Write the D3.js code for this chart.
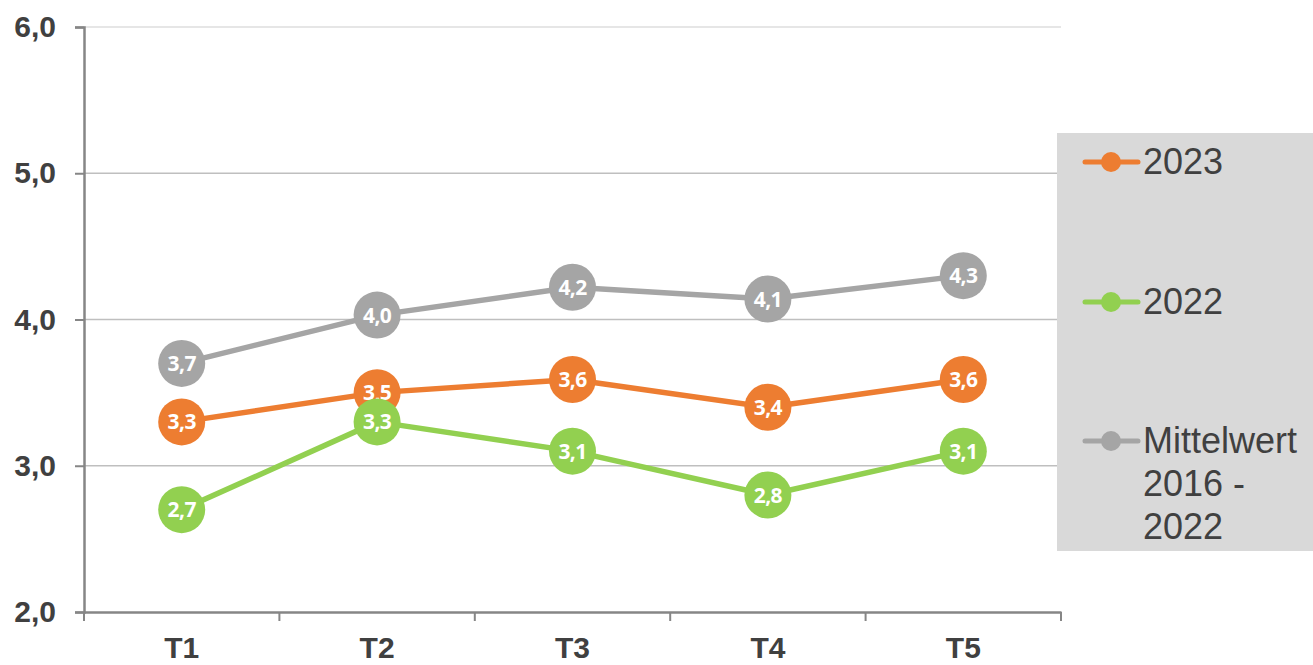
<!DOCTYPE html>
<html>
<head>
<meta charset="utf-8">
<script src="https://cdn.jsdelivr.net/npm/d3@7"></script>
<style>
  body { margin: 0; background: #fff; }
  svg { display: block; }
</style>
</head>
<body>
<svg id="chart" width="1313" height="665"></svg>
<script>
const categories = ['T1', 'T2', 'T3', 'T4', 'T5'];
const yTicks = [2, 3, 4, 5, 6];
const seriesNames = ['2023', '2022', 'Mittelwert 2016 - 2022'];
const values2023 = [3.3, 3.5, 3.59, 3.4, 3.59];
const values2022 = [2.7, 3.3, 3.1, 2.8, 3.1];
const valuesMean = [3.7, 4.03, 4.22, 4.14, 4.3];

const colors = { '2023': '#ED7D31', '2022': '#92D050', 'Mittelwert 2016 - 2022': '#A5A5A5' };
const series = [
  { name: seriesNames[0], values: values2023 },
  { name: seriesNames[1], values: values2022 },
  { name: seriesNames[2], values: valuesMean },
];

const svg = d3.select('#chart');
const plotLeft = 84, plotRight = 1061, plotTop = 27, plotBottom = 612;

const x = d3.scaleBand().domain(categories).range([plotLeft, plotRight]);
const y = d3.scaleLinear().domain([2, 6]).range([plotBottom, plotTop]);
const fmt = v => v.toFixed(1).replace('.', ',');

// gridlines
svg.append('g')
  .selectAll('line')
  .data(yTicks.filter(d => d > 2))
  .enter()
  .append('line')
  .attr('x1', plotLeft)
  .attr('x2', plotRight)
  .attr('y1', d => y(d))
  .attr('y2', d => y(d))
  .attr('stroke', d => (d === 6 ? '#dedede' : '#bfbfbf'))
  .attr('stroke-width', 1.5);

// y axis
const yAxis = svg.append('g')
  .attr('transform', `translate(${plotLeft},0)`)
  .call(d3.axisLeft(y).tickValues(yTicks).tickSize(9).tickPadding(19).tickFormat(fmt));
yAxis.select('.domain').attr('stroke', '#868686').attr('stroke-width', 2.5);
yAxis.selectAll('.tick line').attr('stroke', '#868686').attr('stroke-width', 2);
yAxis.selectAll('.tick text')
  .attr('fill', '#404040')
  .style('font', 'bold 30px "Liberation Sans", Arial, sans-serif');

// x axis
const xAxis = svg.append('g')
  .attr('transform', `translate(0,${plotBottom})`)
  .call(d3.axisBottom(x).tickSize(0).tickPadding(25));
xAxis.select('.domain').attr('stroke', '#868686').attr('stroke-width', 2.5);
xAxis.selectAll('.tick text')
  .attr('fill', '#404040')
  .style('font', 'bold 30px "Liberation Sans", Arial, sans-serif');
xAxis.selectAll('.boundary')
  .data(d3.range(categories.length + 1))
  .enter()
  .append('line')
  .attr('x1', i => plotLeft + i * x.step())
  .attr('x2', i => plotLeft + i * x.step())
  .attr('y1', 0)
  .attr('y2', 9)
  .attr('stroke', '#868686')
  .attr('stroke-width', 2);

// series, drawn gray first so the green sits on top
const line = d3.line()
  .x((d, i) => x(categories[i]) + x.bandwidth() / 2)
  .y(d => y(d));

const drawOrder = [series[2], series[0], series[1]];
drawOrder.forEach(s => {
  const g = svg.append('g');
  g.append('path')
    .datum(s.values)
    .attr('fill', 'none')
    .attr('stroke', colors[s.name])
    .attr('stroke-width', 5.5)
    .attr('stroke-linejoin', 'round')
    .attr('d', line);
  const pts = g.selectAll('g.pt')
    .data(s.values)
    .enter()
    .append('g')
    .attr('transform', (d, i) => `translate(${x(categories[i]) + x.bandwidth() / 2},${y(d)})`);
  pts.append('circle')
    .attr('r', 23.5)
    .attr('fill', colors[s.name]);
  pts.append('text')
    .attr('text-anchor', 'middle')
    .attr('dy', '0.36em')
    .attr('fill', '#fff')
    .style('font', 'bold 21px "Open Sans", sans-serif')
    .style('letter-spacing', '-0.6px')
    .text(d => fmt(d));
});

// legend
const legend = svg.append('g');
legend.append('rect')
  .attr('x', 1057)
  .attr('y', 133)
  .attr('width', 256)
  .attr('height', 418)
  .attr('fill', '#d9d9d9');

const legendY = [162, 302, 441];
series.forEach((s, i) => {
  const ly = legendY[i];
  legend.append('line')
    .attr('x1', 1085)
    .attr('x2', 1138)
    .attr('y1', ly)
    .attr('y2', ly)
    .attr('stroke', colors[s.name])
    .attr('stroke-width', 5)
    .attr('stroke-linecap', 'round');
  legend.append('circle')
    .attr('cx', 1111)
    .attr('cy', ly)
    .attr('r', 10)
    .attr('fill', colors[s.name]);
  const lines = s.name === 'Mittelwert 2016 - 2022' ? ['Mittelwert', '2016 -', '2022'] : [s.name];
  const t = legend.append('text')
    .attr('x', 1143)
    .attr('y', ly + 12)
    .attr('fill', '#404040')
    .style('font', '36px "Liberation Sans", Arial, sans-serif');
  lines.forEach((l, j) => {
    t.append('tspan')
      .attr('x', 1143)
      .attr('dy', j === 0 ? 0 : 43)
      .text(l);
  });
});
</script>
</body>
</html>
